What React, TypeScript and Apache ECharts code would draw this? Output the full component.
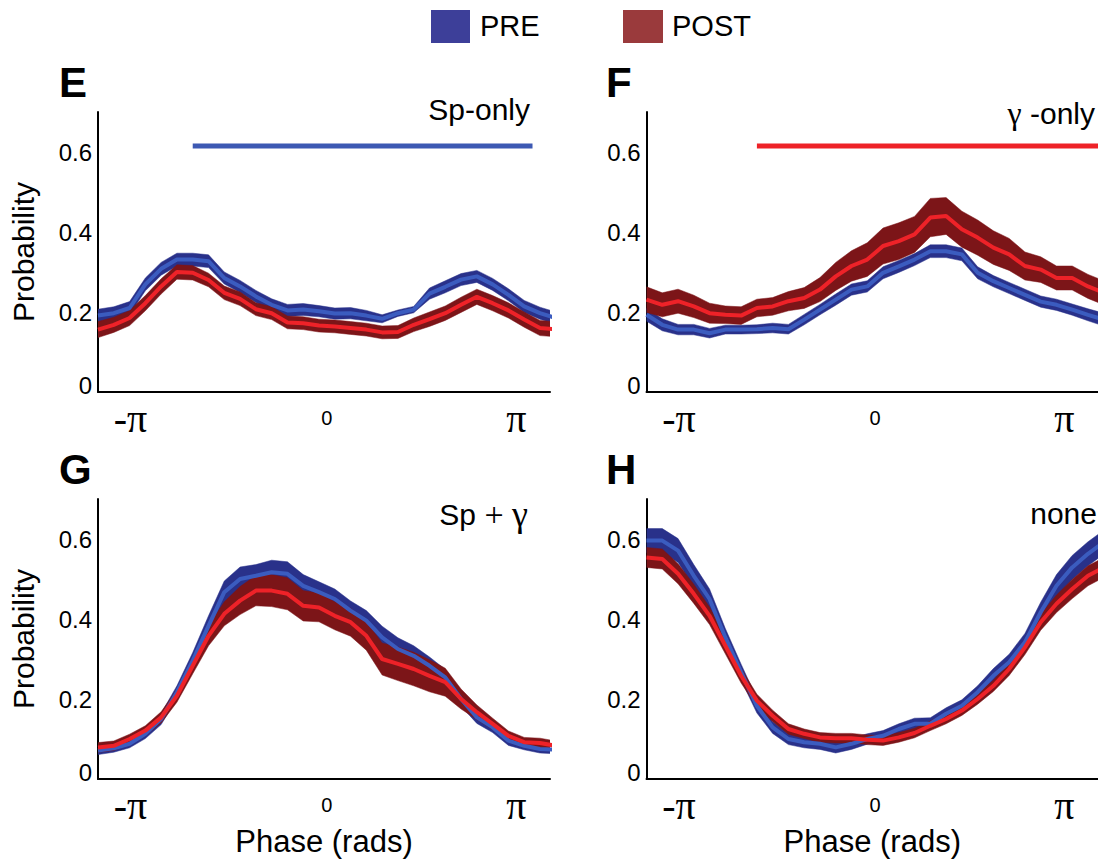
import React, { useEffect, useRef } from "react";
import * as echarts from "echarts";

// Phase bin centres (rad)
const PHASE = [-3.796, -3.534, -3.272, -3.011, -2.749, -2.487, -2.225, -1.963, -1.702, -1.44, -1.178, -0.916, -0.654, -0.393, -0.131, 0.131, 0.393, 0.654, 0.916, 1.178, 1.44, 1.702, 1.963, 2.225, 2.487, 2.749, 3.011, 3.272, 3.534, 3.796];

const X_MIN = -3.796;
const X_MAX = 3.7;
const X_TICKS = [-Math.PI, 0, Math.PI];
const Y_TICKS = [0, 0.2, 0.4, 0.6];

// Panel E: Sp-only
const E_PRE = [0.191, 0.197, 0.21, 0.269, 0.308, 0.331, 0.331, 0.327, 0.285, 0.264, 0.239, 0.218, 0.204, 0.206, 0.202, 0.196, 0.197, 0.191, 0.183, 0.197, 0.206, 0.246, 0.263, 0.281, 0.289, 0.269, 0.243, 0.214, 0.197, 0.185];
const E_PRE_SEM = [0.016, 0.016, 0.016, 0.016, 0.016, 0.016, 0.016, 0.016, 0.015, 0.015, 0.015, 0.015, 0.015, 0.015, 0.014, 0.014, 0.014, 0.013, 0.01, 0.008, 0.008, 0.014, 0.015, 0.015, 0.015, 0.015, 0.015, 0.015, 0.015, 0.015];
const E_POST = [0.156, 0.168, 0.185, 0.222, 0.264, 0.3, 0.298, 0.28, 0.248, 0.233, 0.207, 0.197, 0.174, 0.172, 0.166, 0.164, 0.16, 0.156, 0.149, 0.15, 0.168, 0.182, 0.197, 0.218, 0.238, 0.222, 0.204, 0.181, 0.16, 0.157];
const E_POST_SEM = [0.02, 0.019, 0.019, 0.019, 0.019, 0.018, 0.018, 0.017, 0.017, 0.017, 0.016, 0.016, 0.016, 0.016, 0.016, 0.016, 0.016, 0.016, 0.016, 0.016, 0.017, 0.018, 0.018, 0.019, 0.019, 0.019, 0.019, 0.019, 0.019, 0.019];

// Panel F: gamma-only
const F_PRE = [0.193, 0.168, 0.156, 0.156, 0.147, 0.156, 0.156, 0.157, 0.16, 0.157, 0.181, 0.206, 0.231, 0.256, 0.264, 0.298, 0.314, 0.331, 0.352, 0.352, 0.344, 0.298, 0.277, 0.26, 0.243, 0.226, 0.218, 0.206, 0.193, 0.181];
const F_PRE_SEM = [0.016, 0.015, 0.013, 0.013, 0.012, 0.011, 0.011, 0.011, 0.012, 0.012, 0.013, 0.013, 0.014, 0.014, 0.014, 0.015, 0.015, 0.015, 0.016, 0.016, 0.016, 0.015, 0.014, 0.014, 0.014, 0.014, 0.014, 0.014, 0.015, 0.016];
const F_POST = [0.231, 0.218, 0.227, 0.214, 0.197, 0.193, 0.191, 0.21, 0.214, 0.227, 0.235, 0.256, 0.289, 0.315, 0.331, 0.365, 0.377, 0.394, 0.436, 0.44, 0.407, 0.386, 0.361, 0.344, 0.315, 0.306, 0.285, 0.285, 0.264, 0.248];
const F_POST_SEM = [0.032, 0.03, 0.03, 0.028, 0.025, 0.022, 0.022, 0.022, 0.022, 0.024, 0.026, 0.03, 0.035, 0.038, 0.042, 0.045, 0.046, 0.045, 0.048, 0.046, 0.045, 0.044, 0.042, 0.04, 0.035, 0.032, 0.03, 0.03, 0.03, 0.03];

// Panel G: Sp + gamma
const G_PRE = [0.071, 0.077, 0.088, 0.113, 0.15, 0.217, 0.296, 0.383, 0.467, 0.5, 0.508, 0.517, 0.513, 0.483, 0.467, 0.45, 0.421, 0.396, 0.354, 0.325, 0.308, 0.283, 0.254, 0.2, 0.154, 0.129, 0.096, 0.083, 0.075, 0.073];
const G_PRE_SEM = [0.01, 0.01, 0.01, 0.012, 0.014, 0.016, 0.02, 0.025, 0.028, 0.03, 0.028, 0.03, 0.03, 0.028, 0.026, 0.025, 0.024, 0.025, 0.028, 0.028, 0.025, 0.022, 0.02, 0.018, 0.015, 0.013, 0.012, 0.01, 0.01, 0.01];
const G_POST = [0.079, 0.083, 0.1, 0.121, 0.154, 0.208, 0.283, 0.358, 0.413, 0.446, 0.471, 0.471, 0.463, 0.433, 0.429, 0.408, 0.392, 0.358, 0.3, 0.288, 0.275, 0.258, 0.242, 0.2, 0.167, 0.138, 0.108, 0.092, 0.09, 0.083];
const G_POST_SEM = [0.012, 0.012, 0.012, 0.012, 0.014, 0.016, 0.02, 0.025, 0.03, 0.035, 0.038, 0.04, 0.04, 0.038, 0.036, 0.035, 0.035, 0.036, 0.04, 0.042, 0.042, 0.04, 0.035, 0.025, 0.018, 0.014, 0.012, 0.012, 0.012, 0.012];

// Panel H: none
const H_PRE = [0.596, 0.596, 0.571, 0.508, 0.45, 0.354, 0.267, 0.183, 0.129, 0.1, 0.092, 0.088, 0.079, 0.088, 0.1, 0.108, 0.125, 0.138, 0.138, 0.163, 0.183, 0.217, 0.258, 0.292, 0.342, 0.417, 0.483, 0.529, 0.563, 0.592];
const H_PRE_SEM = [0.03, 0.03, 0.03, 0.028, 0.025, 0.022, 0.02, 0.018, 0.015, 0.014, 0.014, 0.014, 0.014, 0.014, 0.013, 0.013, 0.013, 0.014, 0.015, 0.015, 0.015, 0.016, 0.018, 0.02, 0.022, 0.025, 0.028, 0.03, 0.03, 0.03];
const H_POST = [0.554, 0.55, 0.513, 0.463, 0.408, 0.333, 0.258, 0.196, 0.158, 0.125, 0.113, 0.104, 0.102, 0.102, 0.098, 0.096, 0.104, 0.115, 0.133, 0.15, 0.171, 0.2, 0.233, 0.275, 0.329, 0.392, 0.438, 0.475, 0.508, 0.529];
const H_POST_SEM = [0.025, 0.025, 0.025, 0.024, 0.022, 0.02, 0.018, 0.016, 0.014, 0.013, 0.012, 0.012, 0.012, 0.012, 0.012, 0.012, 0.012, 0.012, 0.012, 0.012, 0.012, 0.013, 0.014, 0.016, 0.018, 0.02, 0.022, 0.024, 0.025, 0.025];

// Significance bars [start, end] in rad, at probability SIG_Y
const SIG_E = [-2.225, 3.41];
const SIG_F = [-1.963, 3.7];
const SIG_Y = 0.615;

const PANEL_LETTERS = ["E", "F", "G", "H"];
const PANEL_TITLES = ["Sp-only", "{g|γ} -only", "Sp{p| + }{g|γ}", "none"];

const SANS = "'Liberation Sans', Arial, Helvetica, sans-serif";
const SERIF = "'Liberation Serif', 'Times New Roman', serif";

const PRE_BAND = "#29318a";
const PRE_LINE = "#3b5cbf";
const POST_BAND = "#7c1518";
const POST_LINE = "#ee2228";

export default function App() {
  const ref = useRef<HTMLDivElement>(null);

  useEffect(() => {
    if (!ref.current) return;
    const chart = echarts.init(ref.current, null, { renderer: "svg" });

    const panels = [
      { pre: E_PRE, preSem: E_PRE_SEM, post: E_POST, postSem: E_POST_SEM },
      { pre: F_PRE, preSem: F_PRE_SEM, post: F_POST, postSem: F_POST_SEM },
      { pre: G_PRE, preSem: G_PRE_SEM, post: G_POST, postSem: G_POST_SEM },
      { pre: H_PRE, preSem: H_PRE_SEM, post: H_POST, postSem: H_POST_SEM },
    ];

    const grids = [
      { left: 98, top: 112, width: 452, height: 280 },
      { left: 646.5, top: 112, width: 451.5, height: 280 },
      { left: 98, top: 499, width: 452, height: 280 },
      { left: 646.5, top: 499, width: 451.5, height: 280 },
    ];

    const xAxes = grids.map((_, i) => ({
      type: "value",
      gridIndex: i,
      min: X_MIN,
      max: X_MAX,
      axisLine: { show: true, onZero: false, lineStyle: { color: "#000", width: 2 } },
      axisTick: { show: false },
      splitLine: { show: false },
      axisLabel: {
        customValues: X_TICKS,
        margin: 6,
        color: "#000",
        formatter: (v: number) => (v < -1 ? "{npi|-π}" : v > 1 ? "{pi|π}" : "{z|0}"),
        rich: {
          npi: { fontFamily: SERIF, fontSize: 40, lineHeight: 40, color: "#000", padding: [0, 14, 0, 0] },
          pi: { fontFamily: SERIF, fontSize: 40, lineHeight: 40, color: "#000" },
          z: { fontFamily: SANS, fontSize: 20, lineHeight: 40, color: "#000" },
        },
      },
      name: i >= 2 ? "Phase (rads)" : "",
      nameLocation: "middle",
      nameGap: 47,
      nameTextStyle: { fontFamily: SANS, fontSize: 31, color: "#000" },
    }));

    const yAxes = grids.map((_, i) => ({
      type: "value",
      gridIndex: i,
      min: 0,
      max: 0.7,
      axisLine: { show: true, onZero: false, lineStyle: { color: "#000", width: 2 } },
      axisTick: { show: false },
      splitLine: { show: false },
      axisLabel: {
        customValues: Y_TICKS,
        margin: 6,
        color: "#000",
        fontFamily: SANS,
        fontSize: 24,
        formatter: (v: number) => (v === 0 ? "{z|0}" : "{n|" + v + "}"),
        rich: {
          z: { fontFamily: SANS, fontSize: 24, color: "#000", padding: [0, 0, 14, 0] },
          n: { fontFamily: SANS, fontSize: 24, color: "#000" },
        },
      },
      name: i % 2 === 0 ? "Probability" : "",
      nameLocation: "middle",
      nameGap: 60,
      nameRotate: 90,
      nameTextStyle: { fontFamily: SANS, fontSize: 30, color: "#000" },
    }));

    const series: any[] = [];
    const band = (gi: number, mean: number[], sem: number[], bandColor: string, lineColor: string, name: string) => {
      const rows = mean.map((m, k) => [PHASE[k], m - sem[k], m + sem[k]]);
      series.push({
        type: "custom",
        name: name + " sem",
        xAxisIndex: gi,
        yAxisIndex: gi,
        data: rows,
        clip: true,
        silent: true,
        encode: { x: 0, y: [1, 2] },
        renderItem: (params: any, api: any) => {
          if (params.dataIndex !== 0) return null;
          const top = rows.map((r) => api.coord([r[0], r[2]]));
          const bot = rows.map((r) => api.coord([r[0], r[1]])).reverse();
          const cs = params.coordSys;
          return {
            type: "polygon",
            shape: { points: top.concat(bot) },
            style: { fill: bandColor, stroke: bandColor, lineWidth: 0.5 },
            clipPath: { type: "rect", shape: { x: cs.x, y: cs.y, width: cs.width, height: cs.height } },
          };
        },
      });
      series.push({
        type: "line",
        name,
        xAxisIndex: gi,
        yAxisIndex: gi,
        data: mean.map((m, k) => [PHASE[k], m]),
        symbol: "none",
        lineStyle: { color: lineColor, width: 4 },
        silent: true,
        emphasis: { disabled: true },
      });
    };

    panels.forEach((p, gi) => {
      band(gi, p.pre, p.preSem, PRE_BAND, PRE_LINE, "PRE");
      band(gi, p.post, p.postSem, POST_BAND, POST_LINE, "POST");
    });

    series.push({
      type: "line",
      name: "sig Sp-only",
      xAxisIndex: 0,
      yAxisIndex: 0,
      data: [[SIG_E[0], SIG_Y], [SIG_E[1], SIG_Y]],
      symbol: "none",
      lineStyle: { color: "#3d59b3", width: 5, cap: "butt" },
      silent: true,
    });
    series.push({
      type: "line",
      name: "sig gamma-only",
      xAxisIndex: 1,
      yAxisIndex: 1,
      data: [[SIG_F[0], SIG_Y], [SIG_F[1], SIG_Y]],
      symbol: "none",
      lineStyle: { color: POST_LINE, width: 5, cap: "butt" },
      silent: true,
    });

    const letterPos = [
      [59, 82],
      [606, 82],
      [59, 469],
      [606, 469],
    ];
    const titlePos = [
      [530, 109],
      [1095, 113],
      [528, 514],
      [1097, 513],
    ];

    const graphic: any[] = [
      { type: "rect", shape: { x: 431, y: 10, width: 39, height: 33 }, style: { fill: "#3d3f99" } },
      {
        type: "text",
        x: 480,
        y: 26,
        style: { text: "PRE", fontFamily: SANS, fontSize: 29, fill: "#000", align: "left", verticalAlign: "middle", textAlign: "left", textVerticalAlign: "middle" },
      },
      { type: "rect", shape: { x: 623, y: 10, width: 40, height: 33 }, style: { fill: "#9a3a3c" } },
      {
        type: "text",
        x: 672,
        y: 26,
        style: { text: "POST", fontFamily: SANS, fontSize: 29, fill: "#000", align: "left", verticalAlign: "middle", textAlign: "left", textVerticalAlign: "middle" },
      },
    ];
    PANEL_LETTERS.forEach((L, i) => {
      graphic.push({
        type: "text",
        x: letterPos[i][0],
        y: letterPos[i][1],
        style: { text: L, fontFamily: SANS, fontWeight: "bold", fontSize: 42, fill: "#000", align: "left", verticalAlign: "middle", textAlign: "left", textVerticalAlign: "middle" },
      });
    });
    PANEL_TITLES.forEach((t, i) => {
      graphic.push({
        type: "text",
        x: titlePos[i][0],
        y: titlePos[i][1],
        z: 10,
        style: {
          text: t,
          fontFamily: SANS,
          fontSize: 30,
          fill: "#000",
          align: "right",
          verticalAlign: "middle",
          textAlign: "right",
          textVerticalAlign: "middle",
          rich: {
            g: { fontFamily: SERIF, fontSize: i === 2 ? 36 : 32, fill: "#000", color: "#000" },
            p: { fontFamily: SERIF, fontSize: 34, fill: "#000", color: "#000" },
          },
        },
      });
    });

    chart.setOption({
      animation: false,
      backgroundColor: "#fff",
      grid: grids,
      xAxis: xAxes,
      yAxis: yAxes,
      series,
      graphic,
    });

    return () => chart.dispose();
  }, []);

  return (
    <div
      ref={ref}
      style={{ position: "fixed", left: 0, top: 0, width: 1098, height: 864, background: "#fff" }}
    />
  );
}
